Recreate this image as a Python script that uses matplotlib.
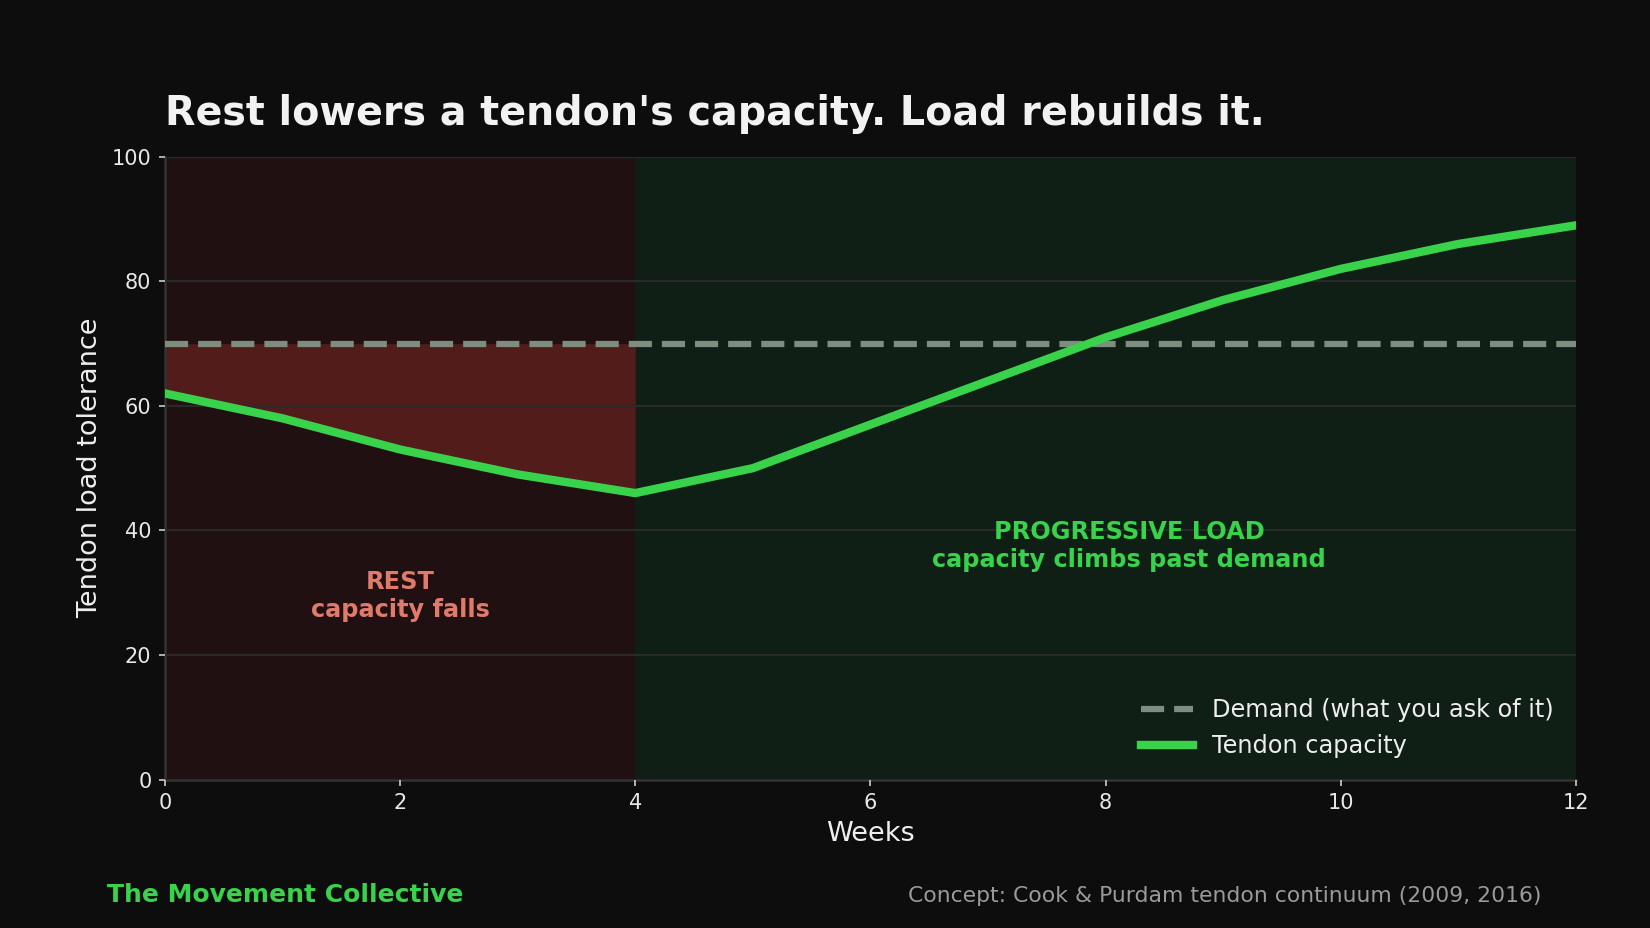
import matplotlib
matplotlib.use("Agg")
import matplotlib.pyplot as plt
import numpy as np

weeks = [0, 1, 2, 3, 4, 5, 6, 7, 8, 9, 10, 11, 12]
capacity = [62, 58, 53, 49, 46, 50, 57, 64, 71, 77, 82, 86, 89]
demand = [70] * len(weeks)
rest_end = 4
x_ticks = [0, 2, 4, 6, 8, 10, 12]
y_ticks = [0, 20, 40, 60, 80, 100]

BG = "#0d0d0d"
GREEN = "#39d34b"
RED_TXT = "#e07a6a"
DEMAND_C = "#7f8c80"

plt.rcParams['font.family'] = ['DejaVu Sans']
fig = plt.figure(figsize=(11, 928 / 150), dpi=150, facecolor=BG)
ax = fig.add_axes([0.1, 0.16, 0.855, 0.671])
ax.set_facecolor(BG)

ax.axvspan(0, rest_end, color="#201011", zorder=0, lw=0)
ax.axvspan(rest_end, 12, color="#0f1f16", zorder=0, lw=0)

w = np.array(weeks)
c = np.array(capacity)
d = np.array(demand)
mask = w <= rest_end
ax.fill_between(w[mask], c[mask], d[mask], color="#521c1a", lw=0, zorder=1)

ax.set_xlim(0, 12)
ax.set_ylim(0, 100)
ax.set_xticks(x_ticks)
ax.set_yticks(y_ticks)
ax.grid(axis='y', color="#2a2a2a", lw=1, zorder=1)
ax.set_axisbelow(False)

ax.plot(w, d, ls='--', color=DEMAND_C, lw=3, zorder=3, label="Demand (what you ask of it)")
ax.plot(w, c, color=GREEN, lw=4, zorder=4, label="Tendon capacity")

for s in ['top', 'right']:
    ax.spines[s].set_visible(False)
for s in ['left', 'bottom']:
    ax.spines[s].set_color("#333333")
    ax.spines[s].set_linewidth(1.2)
ax.tick_params(colors="#e8e8e8", labelsize=10, length=3, color="#cccccc")

ax.set_xlabel("Weeks", color="#eeeeee", fontsize=13, labelpad=4)
ax.set_ylabel("Tendon load tolerance", color="#eeeeee", fontsize=13, labelpad=4)

ax.text(2, 29.5, "REST\ncapacity falls", color=RED_TXT, fontsize=11.5,
        fontweight='bold', ha='center', va='center', zorder=5)
ax.text(8.2, 37.5, "PROGRESSIVE LOAD\ncapacity climbs past demand", color=GREEN,
        fontsize=11.5, fontweight='bold', ha='center', va='center', zorder=5)

leg = ax.legend(loc='lower right', frameon=False, fontsize=11.5, labelcolor="#eeeeee",
                handlelength=2.2)

fig.text(0.1, 0.865, "Rest lowers a tendon's capacity. Load rebuilds it.",
         color="#f2f2f2", fontsize=19, fontweight='bold', ha='left', va='baseline')
fig.text(0.065, 0.028, "The Movement Collective", color=GREEN, fontsize=12,
         fontweight='bold', ha='left', va='baseline')
fig.text(0.9345, 0.028, "Concept: Cook & Purdam tendon continuum (2009, 2016)",
         color="#9a9a9a", fontsize=10.5, ha='right', va='baseline')

fig.savefig("out.png", dpi=150, facecolor=BG)
